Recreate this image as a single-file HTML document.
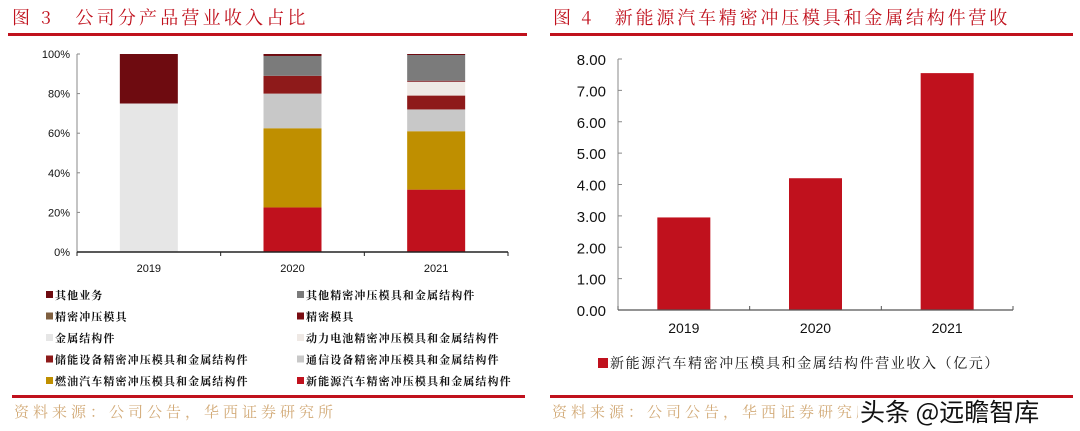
<!DOCTYPE html>
<html><head><meta charset="utf-8"><style>
body{margin:0;background:#fff;width:1080px;height:431px;overflow:hidden}
svg{display:block;font-family:"Liberation Sans","Noto Sans CJK SC",sans-serif}
.cn{font-family:"Noto Serif CJK SC","Noto Sans CJK SC",serif}
</style></head><body>
<svg id="svg" width="1080" height="431">
<g>
<text x="12" y="24" class="cn" font-size="18" letter-spacing="3.2" fill="#c0111d">图 3　公司分产品营业收入占比</text>
<rect x="8" y="33" width="519" height="3" fill="#c0111d"/>
</g>
<g>
<text x="553" y="24" class="cn" font-size="18" letter-spacing="2.8" fill="#c0111d">图 4　新能源汽车精密冲压模具和金属结构件营收</text>
<rect x="550" y="33" width="523" height="3" fill="#c0111d"/>
</g>
<g id="left"></g>
<g id="right"></g>
<rect x="12" y="395" width="513" height="3" fill="#c0111d"/>
<rect x="550" y="395" width="523" height="3" fill="#c0111d"/>
<text x="14" y="417" class="cn" font-size="15" letter-spacing="4" fill="#d2aa77">资料来源：公司公告，华西证券研究所</text>
<text x="552" y="417" class="cn" font-size="15" letter-spacing="4" fill="#d2aa77">资料来源：公司公告，华西证券研究所</text>
<rect x="858" y="398" width="197" height="30" fill="#fff"/>
<text x="860" y="421" font-size="25" fill="#111" font-family="Noto Sans CJK SC,sans-serif">头条 @远瞻智库</text>
</svg>
<script>
const NS="http://www.w3.org/2000/svg";
const leftCats=["2019","2020","2021"];
const seriesNames=["新能源汽车精密冲压模具和金属结构件","燃油汽车精密冲压模具和金属结构件","通信设备精密冲压模具和金属结构件","储能设备精密冲压模具和金属结构件","动力电池精密冲压模具和金属结构件","金属结构件","精密模具","精密冲压模具","其他精密冲压模具和金属结构件","其他业务"];
const seriesColors=["#c0111d","#bf8f00","#c8c8c8","#8e1a1a","#efe9e5","#e6e6e6","#7a0c12","#7f5f3f","#7b7b7b","#6e0b10"];
const sNewEnergy=[0,22.5,31.5];
const sFuel=[0,40,29.5];
const sTelecom=[0,17.5,11];
const sStorage=[0,9,7];
const sBattery=[0,0,7];
const sMetal=[75,0,0];
const sPrecisionMold=[0,0,0.5];
const sStampMold=[0,0,0];
const sOtherPrecision=[0,10,13];
const sOther=[25,1,0.5];
const allSeries=[sNewEnergy,sFuel,sTelecom,sStorage,sBattery,sMetal,sPrecisionMold,sStampMold,sOtherPrecision,sOther];
const leftTicks=["0%","20%","40%","60%","80%","100%"];
const rightCats=["2019","2020","2021"];
const rightValues=[2.95,4.2,7.55];
const rightTicks=["0.00","1.00","2.00","3.00","4.00","5.00","6.00","7.00","8.00"];
const legendOrder=[9,8,7,6,5,4,3,2,1,0];

function mk(p,tag,at,txt){const e=document.createElementNS(NS,tag);for(const k in at)e.setAttribute(k,at[k]);if(txt!=null)e.textContent=txt;p.appendChild(e);return e;}
const L=document.getElementById('left');
const lx0=77,lx1=508,ly0=252,ly1=54;
const ly=v=>ly0-(v/100)*(ly0-ly1);
const lband=(lx1-lx0)/leftCats.length;
const lxc=i=>lx0+lband*(i+0.5);
mk(L,'line',{x1:lx0,y1:ly1,x2:lx0,y2:ly0,stroke:'#888','stroke-width':1});
leftTicks.forEach((t,i)=>{const v=i*20;
 const tx=mk(L,'text',{x:70,y:ly(v)+4,'font-size':11,'text-anchor':'end',fill:'#111'},t);
 
 
 mk(L,'line',{x1:lx0,y1:ly(v),x2:lx0+3,y2:ly(v),stroke:'#888'});
});
leftCats.forEach((c,i)=>{let acc=0;
 allSeries.forEach((s,k)=>{const v=s[i];if(v>0){
  const r=mk(L,'rect',{x:lxc(i)-29,y:ly(acc+v),width:58,height:ly(acc)-ly(acc+v),fill:seriesColors[k]});
  
  }
  acc+=v;});
 const tx=mk(L,'text',{x:lxc(i),y:272,'font-size':11,'text-anchor':'middle',fill:'#111'},c);
 
 
});
mk(L,'line',{x1:lx0,y1:ly0,x2:lx1,y2:ly0,stroke:'#222','stroke-width':1.5});
for(let i=0;i<=3;i++)mk(L,'line',{x1:lx0+lband*i,y1:ly0,x2:lx0+lband*i,y2:ly0+4,stroke:'#222'});
legendOrder.forEach((k,j)=>{const col=j%2,row=Math.floor(j/2);
 const x=col?297:46,y=298+row*21.5;
 const g=mk(L,'g',{});
 
 
 mk(g,'rect',{x:x,y:y-7,width:7,height:7,fill:seriesColors[k]});
 mk(g,'text',{x:x+9,y:y+1,'font-size':11,'letter-spacing':1.1,'font-weight':'bold',fill:'#111',class:'cn'},seriesNames[k]);
});
const R=document.getElementById('right');
const rx0=618,rx1=1013,ry0=310,ry1=59;
const ry=v=>ry0-(v/8)*(ry0-ry1);
const rband=(rx1-rx0)/rightCats.length;
const rxc=i=>rx0+rband*(i+0.5);
mk(R,'line',{x1:rx0,y1:ry1,x2:rx0,y2:ry0,stroke:'#888'});
rightTicks.forEach((t,i)=>{
 const tx=mk(R,'text',{x:606,y:ry(i)+6,'font-size':15,'text-anchor':'end',fill:'#111'},t);
 
 
 mk(R,'line',{x1:rx0,y1:ry(i),x2:rx0+4,y2:ry(i),stroke:'#888'});
});
rightCats.forEach((c,i)=>{
 const r=mk(R,'rect',{x:rxc(i)-26.5,y:ry(rightValues[i]),width:53,height:ry0-ry(rightValues[i]),fill:'#c0111d'});
 
 
 const tx=mk(R,'text',{x:rxc(i),y:333,'font-size':14,'text-anchor':'middle',fill:'#111'},c);
 
 
});
mk(R,'line',{x1:rx0,y1:ry0,x2:rx1,y2:ry0,stroke:'#555','stroke-width':1.2});
for(let i=0;i<=3;i++)mk(R,'line',{x1:rx0+rband*i,y1:ry0,x2:rx0+rband*i,y2:ry0-4,stroke:'#555'});
const lg=mk(R,'g',{});


mk(lg,'rect',{x:598,y:358,width:10,height:10,fill:'#c0111d'});
mk(lg,'text',{x:610,y:368,'font-size':14,'letter-spacing':1.6,fill:'#111',class:'cn'},'新能源汽车精密冲压模具和金属结构件营业收入（亿元）');
</script>
</body></html>
